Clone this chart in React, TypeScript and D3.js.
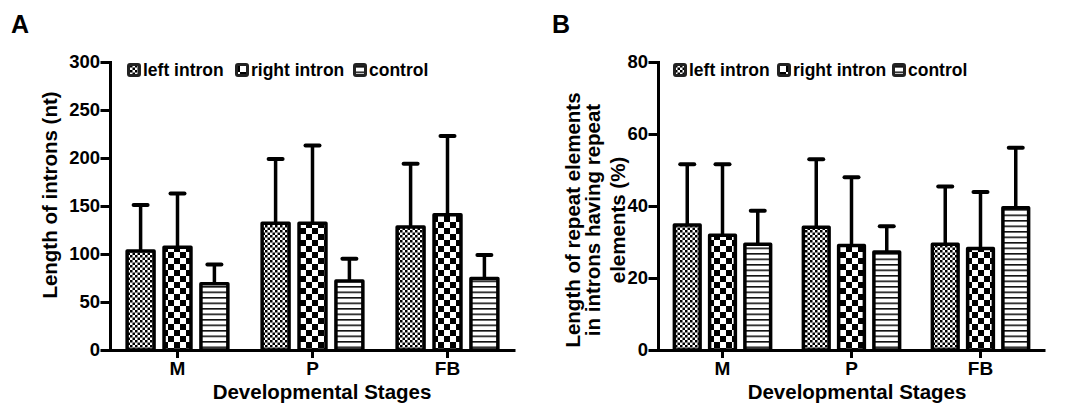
import React, { useEffect, useRef } from 'react';
import * as d3 from 'd3';

const stages = ['M', 'P', 'FB'];
const seriesNames = ['left intron', 'right intron', 'control'];

// panel A - length of introns (nt), mean and SD per stage
const leftLenMean = [103, 132, 128];
const leftLenSd = [48, 67, 66];
const rightLenMean = [107, 132, 141];
const rightLenSd = [56, 81, 82];
const ctrlLenMean = [69, 72, 74.5];
const ctrlLenSd = [20, 23, 24.5];
const lenTicks = [0, 50, 100, 150, 200, 250, 300];

// panel B - length of repeat elements (%)
const leftRepMean = [34.7, 34.1, 29.4];
const leftRepSd = [16.9, 18.9, 16];
const rightRepMean = [31.9, 29, 28.2];
const rightRepSd = [19.7, 19, 15.7];
const ctrlRepMean = [29.4, 27.2, 39.5];
const ctrlRepSd = [9.3, 7.2, 16.7];
const repTicks = [0, 20, 40, 60, 80];

const FONT = '"Liberation Sans", Arial, Helvetica, sans-serif';
const patIds = ['pat-fine', 'pat-coarse', 'pat-lines'];

function addPatterns(defs: any) {
  const fine = defs.append('pattern').attr('id', patIds[0])
    .attr('patternUnits', 'userSpaceOnUse').attr('width', 5).attr('height', 5);
  fine.append('rect').attr('width', 5).attr('height', 5).attr('fill', '#fff');
  fine.append('rect').attr('width', 2.5).attr('height', 2.5).attr('fill', '#000');
  fine.append('rect').attr('x', 2.5).attr('y', 2.5).attr('width', 2.5).attr('height', 2.5).attr('fill', '#000');

  const coarse = defs.append('pattern').attr('id', patIds[1])
    .attr('patternUnits', 'userSpaceOnUse').attr('width', 12).attr('height', 12);
  coarse.append('rect').attr('width', 12).attr('height', 12).attr('fill', '#fff');
  coarse.append('rect').attr('width', 6).attr('height', 6).attr('fill', '#000');
  coarse.append('rect').attr('x', 6).attr('y', 6).attr('width', 6).attr('height', 6).attr('fill', '#000');

  const lines = defs.append('pattern').attr('id', patIds[2])
    .attr('patternUnits', 'userSpaceOnUse').attr('width', 8).attr('height', 5.5);
  lines.append('rect').attr('width', 8).attr('height', 5.5).attr('fill', '#fff');
  lines.append('rect').attr('y', 0).attr('width', 8).attr('height', 1.6).attr('fill', '#111');
}

function drawPanel(svg: any, o: any) {
  const x0 = d3.scaleBand().domain(stages).range([o.left, o.right]).padding(0);
  const bw = x0.bandwidth();
  const x1 = d3.scaleBand().domain(seriesNames).range([bw * 0.09, bw * 0.91])
    .paddingInner(0.27).paddingOuter(0.135);
  const y = d3.scaleLinear().domain([0, o.yMax]).range([o.bottom, o.top]);

  const g = svg.append('g');

  // bars + error bars (upper only)
  seriesNames.forEach((s, si) => {
    const means = o.means[si];
    const sds = o.sds[si];
    const cx = (d: string) => x0(d)! + x1(s)! + x1.bandwidth() / 2;

    g.append('g').selectAll('line').data(stages).join('line')
      .attr('x1', cx).attr('x2', cx)
      .attr('y1', (d: string, i: number) => y(means[i]))
      .attr('y2', (d: string, i: number) => y(means[i] + sds[i]))
      .attr('stroke', '#000').attr('stroke-width', 3.5);

    g.append('g').selectAll('line').data(stages).join('line')
      .attr('x1', (d: string) => cx(d) - 7).attr('x2', (d: string) => cx(d) + 7)
      .attr('y1', (d: string, i: number) => y(means[i] + sds[i]))
      .attr('y2', (d: string, i: number) => y(means[i] + sds[i]))
      .attr('stroke', '#000').attr('stroke-width', 4).attr('stroke-linecap', 'round');

    g.append('g').selectAll('rect').data(stages).join('rect')
      .attr('x', (d: string) => x0(d)! + x1(s)!)
      .attr('y', (d: string, i: number) => y(means[i]))
      .attr('width', x1.bandwidth())
      .attr('height', (d: string, i: number) => y(0) - y(means[i]))
      .attr('fill', `url(#${patIds[si]})`)
      .attr('stroke', '#000').attr('stroke-width', 3.5).attr('stroke-linejoin', 'round');
  });

  // y axis
  const ya = g.append('g').attr('transform', `translate(${o.left},0)`)
    .call(d3.axisLeft(y).tickValues(o.ticks).tickSize(8).tickSizeOuter(0).tickPadding(2));
  ya.attr('font-family', FONT).attr('font-size', 18.5).attr('font-weight', 'bold');
  ya.selectAll('path,line').attr('stroke', '#000').attr('stroke-width', 3).attr('stroke-linecap', 'square');
  ya.selectAll('text').attr('fill', '#000');

  // x axis
  const xa = g.append('g').attr('transform', `translate(0,${o.bottom})`)
    .call(d3.axisBottom(x0).tickSize(8).tickSizeOuter(0).tickPadding(4));
  xa.attr('font-family', FONT).attr('font-size', 19).attr('font-weight', 'bold');
  xa.selectAll('path,line').attr('stroke', '#000').attr('stroke-width', 3);
  xa.selectAll('text').attr('fill', '#000');

  // x title
  g.append('text').attr('x', o.xTitleX).attr('y', 399)
    .attr('text-anchor', 'middle').attr('font-family', FONT)
    .attr('font-size', 20.5).attr('font-weight', 'bold')
    .text('Developmental Stages');

  // y title lines
  o.yTitle.forEach((line: string, i: number) => {
    g.append('text')
      .attr('transform', `translate(${o.yTitleX[i]},${o.yTitleY}) rotate(-90)`)
      .attr('text-anchor', 'middle').attr('font-family', FONT)
      .attr('font-size', 20.5).attr('font-weight', 'bold')
      .text(line);
  });

  // panel letter
  g.append('text').attr('x', o.letterX).attr('y', 33)
    .attr('font-family', FONT).attr('font-size', 25).attr('font-weight', 'bold')
    .text(o.letter);

  // legend
  seriesNames.forEach((s, si) => {
    const lx = o.legendX[si];
    g.append('rect').attr('x', lx + 1.5).attr('y', 64.5).attr('width', 11).attr('height', 11)
      .attr('rx', 1.5)
      .attr('fill', `url(#${patIds[si]})`).attr('stroke', '#222').attr('stroke-width', 3);
    g.append('text').attr('x', lx + 16).attr('y', 75.5)
      .attr('font-family', FONT).attr('font-size', 17.5).attr('font-weight', 'bold')
      .text(s);
  });
}

export default function App() {
  const ref = useRef<SVGSVGElement>(null);

  useEffect(() => {
    const svg = d3.select(ref.current);
    svg.selectAll('*').remove();
    addPatterns(svg.append('defs'));

    drawPanel(svg, {
      left: 110, right: 515, top: 62, bottom: 350, yMax: 300, ticks: lenTicks,
      means: [leftLenMean, rightLenMean, ctrlLenMean],
      sds: [leftLenSd, rightLenSd, ctrlLenSd],
      xTitleX: 322,
      yTitle: ['Length of introns (nt)'], yTitleX: [57], yTitleY: 195,
      letter: 'A', letterX: 11,
      legendX: [127, 235, 353],
    });

    drawPanel(svg, {
      left: 658, right: 1045, top: 62, bottom: 350, yMax: 80, ticks: repTicks,
      means: [leftRepMean, rightRepMean, ctrlRepMean],
      sds: [leftRepSd, rightRepSd, ctrlRepSd],
      xTitleX: 857,
      yTitle: ['Length of repeat elements', 'in introns having repeat', 'elements (%)'],
      yTitleX: [580, 600, 625], yTitleY: 220,
      letter: 'B', letterX: 552,
      legendX: [673, 777, 892],
    });
  }, []);

  return (
    <svg ref={ref} width={1068} height={406}
      style={{ position: 'absolute', left: 0, top: 0, background: '#fff' }} />
  );
}
